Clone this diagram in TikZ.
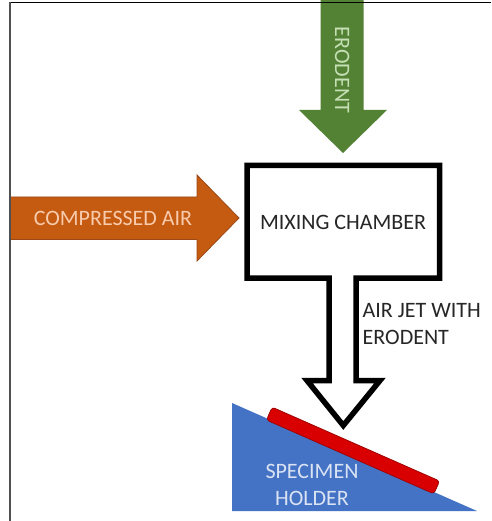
\documentclass[tikz,border=0pt]{standalone}
\usepackage{fontspec}
\setmainfont{Carlito}
\definecolor{arrowgreen}{HTML}{548235}
\definecolor{lightgreen}{HTML}{C5E0B4}
\definecolor{arroworange}{HTML}{C55A11}
\definecolor{orangeedge}{HTML}{9A4A16}
\definecolor{lightorange}{HTML}{F8CBAD}
\definecolor{holderblue}{HTML}{4472C4}
\definecolor{lightblue}{HTML}{DAE3F3}
\definecolor{barred}{HTML}{D80000}
\definecolor{bardark}{HTML}{A00000}
\definecolor{framegray}{HTML}{505050}
\definecolor{textdark}{HTML}{262626}
\tikzset{
  lbl/.style={inner sep=0pt, font=\fontsize{22}{26}\selectfont},
}
\begin{document}
\begin{tikzpicture}[x=1pt,y=-1pt]
\useasboundingbox (0,0) rectangle (491,521);
\fill[white] (0,0) rectangle (491,521);
% green erodent arrow
\fill[arrowgreen] (320.5,0) -- (363.5,0) -- (363.5,110) -- (387,110) -- (343,153) -- (299,110) -- (320.5,110) -- cycle;
\node[lbl, text=lightgreen, rotate=-90, anchor=base] (erodent) at (335,70) {ERODENT};
% orange compressed air arrow
\filldraw[fill=arroworange, draw=orangeedge, line width=0.8pt, line join=miter] (10,197) -- (197,197) -- (197,175) -- (239,218) -- (197,261) -- (197,239.5) -- (10,239.5) -- cycle;
\node[lbl, text=lightorange, anchor=base] (air) at (113,225) {COMPRESSED AIR};
% mixing chamber with outlined jet arrow
\draw[line width=5.5pt, line join=miter, miter limit=10] (247,165.5) -- (439.5,165.5) -- (439.5,278) -- (356,278) -- (356,380.5) -- (380,380.5) -- (343.3,425.5) -- (307,380.5) -- (329,380.5) -- (329,278) -- (247,278) -- cycle;
\node[lbl, text=textdark, anchor=base] (chamber) at (343,229) {MIXING CHAMBER};
\node[lbl, text=textdark, anchor=base west] (jet1) at (362.5,317.5) {AIR JET WITH};
\node[lbl, text=textdark, anchor=base west] (jet2) at (362.5,344) {ERODENT};
% specimen holder
\fill[holderblue] (232,403) -- (477,511) -- (232,511) -- cycle;
\begin{scope}[shift={(353,450.5)}, rotate=-23.8]
\filldraw[draw=bardark, fill=barred, line width=0.8pt, rounded corners=3pt] (-91.5,-7) rectangle (91.5,7);
\end{scope}
\node[lbl, text=lightblue, anchor=base] (hold1) at (312,478) {SPECIMEN};
\node[lbl, text=lightblue, anchor=base] (hold2) at (312,505.7) {HOLDER};
% frame
\draw[black, line width=1.4pt] (9.5,2.7) -- (491,2.7);
\draw[framegray, line width=2pt] (9.5,2) -- (9.5,521);
\end{tikzpicture}
\end{document}
